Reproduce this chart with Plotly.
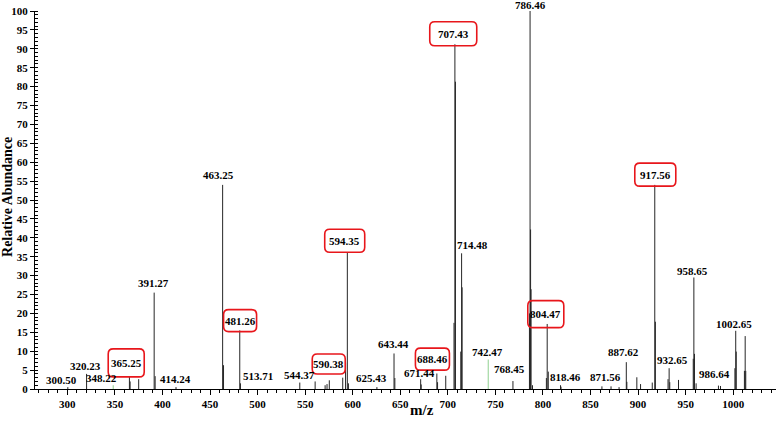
import plotly.graph_objects as go

# peak list (m/z, relative abundance)
peak_mz = [300.50, 320.23, 365.25, 366.0, 375.0, 391.27, 392.3, 414.24,
           463.25, 464.2, 481.26, 482.0, 544.37, 560.5, 571.0, 573.0, 575.4,
           589.5, 592.5, 594.35, 595.5, 625.43, 643.44, 644.3, 671.44, 672.0,
           688.46, 689.2, 697.8, 706.5, 707.43, 708.0, 713.6, 714.48, 715.0,
           768.45, 785.8, 786.46, 787.0, 787.5, 789.0, 803.6, 804.47, 805.6,
           818.46, 819.0, 862.0, 871.56, 880.0, 887.62, 888.2, 898.7, 902.6,
           914.9, 917.56, 918.2, 931.5, 932.65, 933.3, 942.5, 958.0, 958.65,
           959.3, 961.0, 984.5, 986.64, 1001.8, 1002.65, 1003.2, 1011.8,
           1012.6, 1013.2]
peak_int = [0.5, 4.0, 3.4, 2.0, 2.6, 25.5, 3.4, 0.5,
            54.0, 6.3, 15.5, 1.5, 1.7, 2.0, 1.0, 1.3, 2.3,
            3.0, 7.0, 36.2, 1.5, 0.5, 9.4, 2.9, 2.6, 1.2,
            4.1, 1.8, 3.5, 17.5, 91.2, 81.3, 9.9, 35.9, 26.9,
            2.1, 20.0, 100.0, 42.2, 26.4, 1.0, 2.9, 17.2, 4.6,
            1.0, 0.6, 0.7, 0.7, 0.5, 7.1, 1.9, 3.1, 1.3,
            1.7, 54.0, 17.8, 2.6, 5.5, 1.8, 2.4, 8.0, 29.5,
            9.3, 1.5, 0.9, 0.8, 5.5, 15.4, 9.9, 4.8,
            14.0, 4.8]

# green traces
green_mz = [348.22, 742.47]
green_int = [1.0, 7.8]

# peak labels (text, m/z of label centre, abundance of label centre)
label_text = ["300.50", "320.23", "348.22", "391.27", "414.24", "463.25",
              "513.71", "544.37", "625.43", "643.44", "671.44", "714.48",
              "742.47", "768.45", "786.46", "818.46", "871.56", "887.62",
              "932.65", "958.65", "986.64", "1002.65"]
label_x = [294.3, 318.8, 335.6, 390.5, 413.3, 458.8,
           500.8, 543.9, 620.0, 642.6, 670.0, 726.0,
           741.8, 764.5, 787.3, 823.7, 866.1, 885.0,
           936.1, 957.1, 980.6, 1000.8]
label_y = [2.3, 6.1, 2.8, 28.1, 2.6, 56.6,
           3.4, 3.7, 3.0, 11.8, 4.2, 38.1,
           9.7, 5.2, 101.6, 3.1, 3.1, 9.9,
           7.7, 31.3, 4.0, 17.2]

# boxed (highlighted) labels
boxed_text = ["365.25", "481.26", "590.38", "594.35", "688.46", "707.43",
              "804.47", "917.56"]
boxed_x = [361.9, 481.6, 574.8, 591.6, 683.8, 705.7, 803.0, 918.1]
boxed_y = [6.9, 18.1, 6.6, 39.2, 7.9, 94.0, 19.8, 56.7]
box_w = [36, 33, 33, 40, 34, 47, 36, 41]
box_h = [28, 22, 20, 23, 22, 24, 27, 23]

X_RANGE = [266, 1045]
Y_RANGE = [0, 100]
W, H = 777, 423
M = dict(l=35, r=1, t=11, b=34)
FONT = "Liberation Serif, Times New Roman, serif"


def stick_xy(xs, ys):
    px, py = [], []
    for x, y in zip(xs, ys):
        px += [x, x, None]
        py += [0, y, None]
    return px, py


def rounded_box(cx, cy, w, h, r=5):
    kx = (W - M["l"] - M["r"]) / (X_RANGE[1] - X_RANGE[0])
    ky = (H - M["t"] - M["b"]) / (Y_RANGE[1] - Y_RANGE[0])
    x0, x1 = cx - w / 2 / kx, cx + w / 2 / kx
    y0, y1 = cy - h / 2 / ky, cy + h / 2 / ky
    rx, ry = r / kx, r / ky
    return (f"M {x0+rx},{y0} L {x1-rx},{y0} Q {x1},{y0} {x1},{y0+ry} "
            f"L {x1},{y1-ry} Q {x1},{y1} {x1-rx},{y1} L {x0+rx},{y1} "
            f"Q {x0},{y1} {x0},{y1-ry} L {x0},{y0+ry} Q {x0},{y0} {x0+rx},{y0} Z")


def to_paper_y(v):
    return (v - Y_RANGE[0]) / (Y_RANGE[1] - Y_RANGE[0])


fig = go.Figure()

sx, sy = stick_xy(peak_mz, peak_int)
fig.add_trace(go.Scatter(x=sx, y=sy, mode="lines",
                         line=dict(color="#262626", width=1),
                         hoverinfo="skip", showlegend=False))
gx, gy = stick_xy(green_mz, green_int)
fig.add_trace(go.Scatter(x=gx, y=gy, mode="lines",
                         line=dict(color="#8fd08f", width=1),
                         hoverinfo="skip", showlegend=False))

# labels use paper y so the 786.46 label above the frame is still drawn
for t, x, y in zip(label_text, label_x, label_y):
    fig.add_annotation(x=x, y=to_paper_y(y), yref="paper",
                       text=f"<b>{t}</b>", showarrow=False,
                       xanchor="center", yanchor="middle",
                       font=dict(family=FONT, size=11, color="black"))

for t, x, y, w, h in zip(boxed_text, boxed_x, boxed_y, box_w, box_h):
    fig.add_annotation(x=x, y=to_paper_y(y), yref="paper",
                       text=f"<b>{t}</b>", showarrow=False,
                       xanchor="center", yanchor="middle",
                       font=dict(family=FONT, size=11, color="black"))
    fig.add_shape(type="path", xref="x", yref="y",
                  path=rounded_box(x, y, w, h),
                  line=dict(color="#e8161b", width=1.6))

fig.add_annotation(x=(422 - M["l"]) / (W - M["l"] - M["r"]),
                   y=-(410 - (H - M["b"])) / (H - M["t"] - M["b"]),
                   xref="paper", yref="paper", text="<b>m/z</b>",
                   xanchor="center", yanchor="middle",
                   showarrow=False, font=dict(family=FONT, size=15, color="black"))
fig.add_annotation(x=(8 - M["l"]) / (W - M["l"] - M["r"]), y=0.508,
                   xref="paper", yref="paper", text="<b>Relative Abundance</b>",
                   xanchor="center", yanchor="middle",
                   textangle=-90, showarrow=False,
                   font=dict(family=FONT, size=14, color="black"))

fig.update_layout(
    width=W, height=H, margin=M,
    plot_bgcolor="white", paper_bgcolor="white",
    font=dict(family=FONT, size=11, color="black"),
    xaxis=dict(range=X_RANGE, showgrid=False, zeroline=False,
               showline=True, linecolor="black", linewidth=1,
               tickmode="linear", tick0=300, dtick=50,
               ticks="outside", ticklen=5, tickcolor="black",
               tickfont=dict(family=FONT, size=11, weight="bold"),
               minor=dict(dtick=10, ticks="outside", ticklen=3,
                          tickcolor="black", showgrid=False)),
    yaxis=dict(range=Y_RANGE, showgrid=False, zeroline=False,
               showline=True, linecolor="black", linewidth=1,
               tickmode="linear", tick0=0, dtick=5,
               ticks="outside", ticklen=4, tickcolor="black",
               tickfont=dict(family=FONT, size=11, weight="bold"),
               minor=dict(dtick=1, ticks="inside", ticklen=3,
                          tickcolor="black", showgrid=False)),
)

# drop the page's default body margin so the figure sits at the window origin
fig.write_html("out.html", config={"displayModeBar": False},
               post_script="document.body.style.margin='0';document.body.style.overflow='hidden';")
